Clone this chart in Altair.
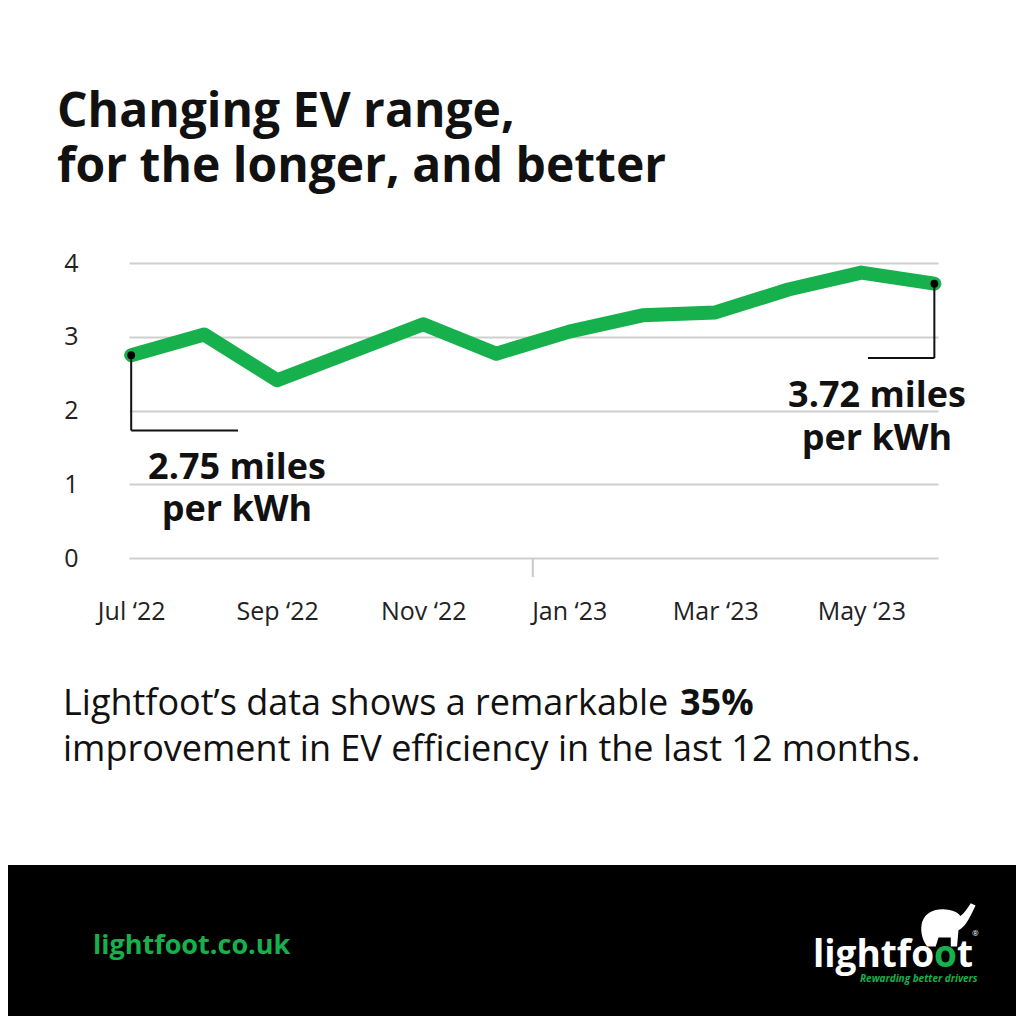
import altair as alt
import pandas as pd

# ---------------- data ----------------
months = ["Jul ‘22", "Aug ‘22", "Sep ‘22", "Oct ‘22", "Nov ‘22", "Dec ‘22",
          "Jan ‘23", "Feb ‘23", "Mar ‘23", "Apr ‘23", "May ‘23", "Jun ‘23"]
mpkwh = [2.75, 3.03, 2.41, 2.79, 3.17, 2.77, 3.07, 3.29, 3.33, 3.64, 3.87, 3.72]
x_label_idx = [0, 2, 4, 6, 8, 10]
y_ticks = [0, 1, 2, 3, 4]
year_split = [5.5]

title_lines = ["Changing EV range,", "for the longer, and better"]
body_line1 = "Lightfoot’s data shows a remarkable"
body_bold = "35%"
body_line2 = "improvement in EV efficiency in the last 12 months."
start_label = ["2.75 miles", "per kWh"]
end_label = ["3.72 miles", "per kWh"]
site = "lightfoot.co.uk"
brand = "lightfoot"
tagline = "Rewarding better drivers"

GREEN = "#16b04c"
INK = "#111111"
FONT = "Open Sans"

# plot area in page pixels
X0, Y0 = 129, 263
W, H = 809, 295


def rx(px):
    return px - X0


def ry(py):
    return py - Y0


df = pd.DataFrame({"idx": list(range(len(months))), "month": months, "value": mpkwh})
start_df = df.iloc[[0]]
end_df = df.iloc[[-1]]

x_scale = alt.Scale(domain=[-0.03, 11.05], nice=False, zero=False)
y_scale = alt.Scale(domain=[0, 4], nice=False)
label_expr = "[" + ",".join("'" + m + "'" for m in months) + "][datum.value]"

x_enc = alt.X("idx:Q", scale=x_scale,
              axis=alt.Axis(values=x_label_idx, labelExpr=label_expr, grid=False,
                            domain=False, ticks=False, labelFont=FONT, labelFontSize=25,
                            labelColor="#222222", labelPadding=61,
                            labelBaseline="alphabetic", title=None))
y_enc = alt.Y("value:Q", scale=y_scale,
              axis=alt.Axis(values=y_ticks, format="d", grid=True, gridColor="#cfcfcf",
                            gridWidth=2, domain=False, ticks=False, labelFont=FONT,
                            labelFontSize=25, labelColor="#222222", labelPadding=51,
                            title=None))

line = alt.Chart(df).mark_line(color=GREEN, strokeWidth=14, strokeCap="round",
                               strokeJoin="round").encode(x=x_enc, y=y_enc)

year_tick = alt.Chart(pd.DataFrame({"idx": year_split})).mark_rule(
    color="#c8c8c8", strokeWidth=2).encode(
    x=alt.X("idx:Q", scale=x_scale), y=alt.value(H), y2=alt.value(H + 19))

lead_s_v = alt.Chart(start_df).mark_rule(color=INK, strokeWidth=2).encode(
    x=alt.X("idx:Q", scale=x_scale), y=alt.Y("value:Q", scale=y_scale),
    y2=alt.value(ry(430.5)))
lead_s_h = alt.Chart(start_df).mark_rule(color=INK, strokeWidth=2).encode(
    x=alt.X("idx:Q", scale=x_scale), x2=alt.value(rx(238)), y=alt.value(ry(430.5)))
lead_e_v = alt.Chart(end_df).mark_rule(color=INK, strokeWidth=2).encode(
    x=alt.X("idx:Q", scale=x_scale), y=alt.Y("value:Q", scale=y_scale),
    y2=alt.value(ry(358)))
lead_e_h = alt.Chart(end_df).mark_rule(color=INK, strokeWidth=2).encode(
    x=alt.X("idx:Q", scale=x_scale), x2=alt.value(rx(868)), y=alt.value(ry(358)))

dots = alt.Chart(pd.concat([start_df, end_df])).mark_circle(
    color="black", size=60, opacity=1).encode(
    x=alt.X("idx:Q", scale=x_scale), y=alt.Y("value:Q", scale=y_scale))


def text_layer(s, px, py, size, weight="normal", color=INK, align="left", style="normal"):
    return alt.Chart(pd.DataFrame({"t": [s]})).mark_text(
        font=FONT, fontSize=size, fontWeight=weight, color=color, align=align,
        baseline="alphabetic", fontStyle=style).encode(
        x=alt.value(rx(px)), y=alt.value(ry(py)), text="t:N")


texts = [
    text_layer(title_lines[0], 57, 127, 48, "bold"),
    text_layer(title_lines[1], 57, 182, 48, "bold"),
    text_layer(start_label[0], 237, 479, 36, "bold", align="center"),
    text_layer(start_label[1], 237, 521, 36, "bold", align="center"),
    text_layer(end_label[0], 877, 407, 36, "bold", align="center"),
    text_layer(end_label[1], 877, 450, 36, "bold", align="center"),
    text_layer(body_line1, 63, 715, 36),
    text_layer(body_bold, 680, 715, 36, "bold"),
    text_layer(body_line2, 63, 761, 36),
]

footer = alt.Chart(pd.DataFrame({"a": [0]})).mark_rect(color="black").encode(
    x=alt.value(rx(8)), x2=alt.value(rx(1016)), y=alt.value(ry(865)), y2=alt.value(ry(1016)))

elephant_path = ("M -0.75 0.72 C -0.95 0.45 -1.0 0.1 -0.92 -0.15 "
                 "C -0.8 -0.5 -0.45 -0.62 -0.1 -0.58 C 0.15 -0.56 0.3 -0.5 0.42 -0.35 "
                 "C 0.55 -0.45 0.65 -0.6 0.78 -0.8 L 0.95 -0.72 "
                 "C 0.85 -0.5 0.75 -0.3 0.62 -0.1 C 0.55 0.0 0.45 0.1 0.35 0.15 "
                 "L 0.3 0.72 L 0.08 0.72 L 0.08 0.4 L -0.35 0.4 L -0.45 0.72 Z")
elephant = alt.Chart(pd.DataFrame({"a": [0]})).mark_point(
    shape=elephant_path, filled=True, color="white", opacity=1, size=3250, strokeWidth=0).encode(
    x=alt.value(rx(948.5)), y=alt.value(ry(926)))

footer_texts = [
    text_layer(site, 93, 954, 27, "bold", color=GREEN),
    text_layer(brand[:7], 813, 967, 37, "bold", color="white"),
    text_layer(brand[7], 934, 967, 37, "bold", color=GREEN),
    text_layer(brand[8], 957, 967, 37, "bold", color="white"),
    text_layer("®", 972, 936, 8, color="white"),
    text_layer(tagline, 860, 982, 10, "bold", color=GREEN, style="italic"),
]

chart = alt.layer(
    line, year_tick, lead_s_v, lead_s_h, lead_e_v, lead_e_h, dots,
    *texts, footer, elephant, *footer_texts
).properties(
    width=W, height=H,
    padding={"left": X0 - 8, "top": Y0 - 8, "right": 1008 - (X0 - 8) - W,
             "bottom": 1008 - (Y0 - 8) - H},
    autosize=alt.AutoSizeParams(type="none"),
    background="white",
).configure_view(stroke=None)

chart.save("out.html", embed_options={"renderer": "svg", "actions": False})
